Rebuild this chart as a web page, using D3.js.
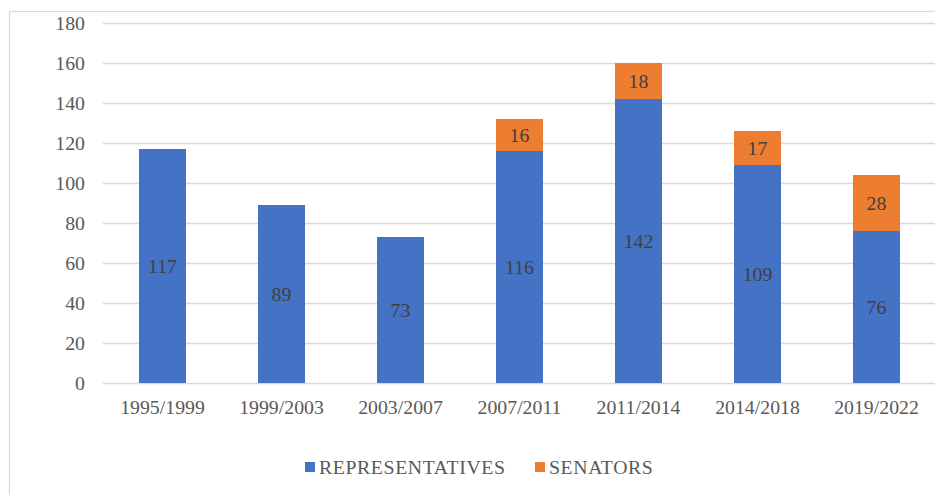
<!DOCTYPE html>
<html><head><meta charset="utf-8">
<script src="https://cdn.jsdelivr.net/npm/d3@7"></script>
<style>html,body{margin:0;padding:0;background:#fff;overflow:hidden}
svg text{font-family:"Liberation Serif","Times New Roman",Times,serif !important;}</style>
</head><body>
<svg id="c" width="935" height="495"></svg>
<script>
const categories = ["1995/1999","1999/2003","2003/2007","2007/2011","2011/2014","2014/2018","2019/2022"];
const representatives = [117, 89, 73, 116, 142, 109, 76];
const senators = [0, 0, 0, 16, 18, 17, 28];
const yTicks = [0,20,40,60,80,100,120,140,160,180];
const seriesNames = ["REPRESENTATIVES","SENATORS"];
const colors = ["#4472c4","#ed7d31"];

const svg = d3.select("#c");
const fs = 19.8;

// outer chart border
svg.append("rect").attr("x",9.5).attr("y",11.5).attr("width",1000).attr("height",1000)
  .attr("fill","none").attr("stroke","#d9d9d9").attr("stroke-width",1.2);

const x = d3.scaleBand().domain(categories).range([103, 936]).paddingInner(0.605).paddingOuter(0.3025);
const y = d3.scaleLinear().domain([0,180]).range([383, 23]);

// gridlines
svg.append("g").selectAll("line").data(yTicks).join("line")
  .attr("x1",103).attr("x2",936).attr("y1",d=>y(d)+0.5).attr("y2",d=>y(d)+0.5)
  .attr("stroke","#d9d9d9").attr("stroke-width",1.3);

// y axis labels
const yAxis = d3.axisLeft(y).tickValues(yTicks).tickSize(0).tickPadding(0);
const gy = svg.append("g").attr("transform","translate(85,0)").call(yAxis);
gy.select(".domain").remove();
gy.attr("font-size",fs);
gy.selectAll("text").attr("fill","#595959").attr("dy","0.34em");

// x axis labels
const xAxis = d3.axisBottom(x).tickSize(0).tickPadding(0);
const gx = svg.append("g").attr("transform","translate(0,383)").call(xAxis);
gx.select(".domain").remove();
gx.attr("font-size",fs);
gx.selectAll("text").attr("fill","#595959").attr("dy","0").attr("y",31);

const table = categories.map((c,i)=>({cat:c, REPRESENTATIVES:representatives[i], SENATORS:senators[i]}));
const stack = d3.stack().keys(seriesNames)(table);

const g = svg.append("g").attr("font-size",fs);
stack.forEach((s,si)=>{
  g.selectAll(null).data(s).join("rect")
    .attr("x",d=>x(d.data.cat)).attr("width",x.bandwidth())
    .attr("y",d=>y(d[1])).attr("height",d=>y(d[0])-y(d[1]))
    .attr("fill",colors[si]);
  g.selectAll(null).data(s.filter(d=>d[1]-d[0]>0)).join("text")
    .attr("x",d=>x(d.data.cat)+x.bandwidth()/2)
    .attr("y",d=>(y(d[0])+y(d[1]))/2)
    .attr("dy","0.34em").attr("text-anchor","middle")
    .attr("fill","#404040")
    .text(d=>d[1]-d[0]);
});

// legend
const legX = [305, 535];
seriesNames.forEach((n,i)=>{
  svg.append("rect").attr("x",legX[i]).attr("y",462).attr("width",10).attr("height",10).attr("fill",colors[i]);
  svg.append("text").attr("x",legX[i]+14).attr("y",467).attr("dy","0.34em")
    .attr("font-size",fs).attr("letter-spacing","0.6px").attr("fill","#595959").text(n);
});
</script>
</body></html>
